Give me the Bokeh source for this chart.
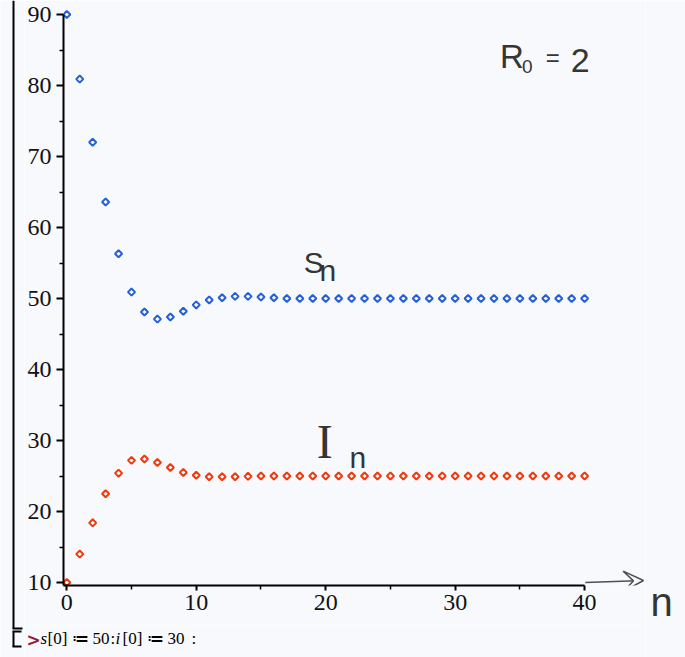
import numpy as np
from bokeh.plotting import figure
from bokeh.layouts import row, column
from bokeh.models import (Range1d, Label, Arrow, VeeHead, FixedTicker,
                          ColumnDataSource)
from bokeh.embed import file_html
from bokeh.resources import INLINE
from bokeh.core.properties import value

# ---------------- data ----------------
n = list(range(41))
S = [90.0, 80.9, 72.0, 63.6, 56.3, 50.9, 48.1, 47.1, 47.4, 48.2,
     49.1, 49.8, 50.1, 50.3, 50.3, 50.2, 50.1, 50.0, 50.0, 50.0,
     50.0, 50.0, 50.0, 50.0, 50.0, 50.0, 50.0, 50.0, 50.0, 50.0,
     50.0, 50.0, 50.0, 50.0, 50.0, 50.0, 50.0, 50.0, 50.0, 50.0, 50.0]
I = [10.0, 14.0, 18.4, 22.5, 25.4, 27.2, 27.4, 26.9, 26.2, 25.5,
     25.1, 24.9, 24.9, 24.9, 24.95, 25.0, 25.0, 25.0, 25.0, 25.0,
     25.0, 25.0, 25.0, 25.0, 25.0, 25.0, 25.0, 25.0, 25.0, 25.0,
     25.0, 25.0, 25.0, 25.0, 25.0, 25.0, 25.0, 25.0, 25.0, 25.0, 25.0]
x_ticks = [0, 10, 20, 30, 40]
x_minor = [5, 15, 25, 35]
y_ticks = [10, 20, 30, 40, 50, 60, 70, 80, 90]
y_minor = [15, 25, 35, 45, 55, 65, 75, 85]

BG = "#f8f9fc"
BLUE = "#2560d8"
RED = "#f03a0c"
PEN = "#353535"

# ---------------- layout numbers (page pixels) ----------------
W, H = 685, 657
L = 24            # left strip width (worksheet bracket)
R = 40            # right strip width (handwritten n)
HT = 625          # height of main plot
X0_PAGE, Y10_PAGE = 64.3, 582.0
sx, sy = 12.99, 7.1
OFF = 3.0         # small gap so edge markers are not clipped

ML = int(round(X0_PAGE - OFF - L))
MB = int(round(HT - (Y10_PAGE + OFF)))
MW = W - L - R
FW = MW - ML
FH = HT - MB
x0 = -(X0_PAGE - (L + ML)) / sx
x1 = x0 + FW / sx
y0 = 10 - ((HT - MB) - Y10_PAGE) / sy
y1 = y0 + FH / sy


def px(page_x):
    return (page_x - X0_PAGE) / sx


def py(page_y):
    return 10 + (Y10_PAGE - page_y) / sy


# ---------------- main plot ----------------
p = figure(width=MW, height=HT,
           min_border_left=ML, min_border_bottom=MB,
           min_border_right=0, min_border_top=0,
           x_range=Range1d(x0, x1), y_range=Range1d(y0, y1),
           output_backend="svg", toolbar_location=None,
           background_fill_color=BG, border_fill_color=BG)
p.outline_line_color = None
p.xgrid.visible = False
p.ygrid.visible = False

src = ColumnDataSource(dict(n=n, S=S, I=I))
p.scatter("n", "S", source=src, marker="square", angle=np.pi / 4, size=5,
          line_width=2, line_color=BLUE, fill_color=None)
p.scatter("n", "I", source=src, marker="square", angle=np.pi / 4, size=5,
          line_width=2, line_color=RED, fill_color=None)

for ax in (p.xaxis, p.yaxis):
    ax.axis_line_width = 2
    ax.major_tick_line_width = 2
    ax.minor_tick_line_width = 1.5
    ax.major_tick_in = 0
    ax.minor_tick_in = 0
    ax.major_label_text_font = "Liberation Serif"
    ax.major_label_text_font_size = "24px"
    ax.major_label_text_color = "#111111"
    ax.axis_line_color = "black"
    ax.major_tick_line_color = "black"
    ax.minor_tick_line_color = "black"

p.xaxis.bounds = (x0, 40)
p.xaxis.ticker = FixedTicker(ticks=x_ticks, minor_ticks=x_minor)
p.xaxis.major_tick_out = 5
p.xaxis.minor_tick_out = 4
p.xaxis.major_label_standoff = 4

p.yaxis.bounds = (y0, 90)
p.yaxis.ticker = FixedTicker(ticks=y_ticks, minor_ticks=y_minor)
p.yaxis.major_tick_out = 7
p.yaxis.minor_tick_out = 4
p.yaxis.major_label_standoff = 5


def hand(page_x, page_y, t, size, font="Liberation Sans", align="left"):
    p.add_layout(Label(x=px(page_x), y=py(page_y), text=t, text_font=font,
                       text_font_size=size, text_color=PEN,
                       text_align=align, text_baseline="middle"))


# R0 = 2
hand(499, 56, "R", "33px")
hand(521, 66, "0", "19px")
hand(545, 57, "=", "24px")
hand(570, 60, "2", "34px")
# S_n
hand(302, 262, "S", "30px")
hand(318, 270, "n", "30px")
# I_n
hand(315, 441, "I", "48px", font="Liberation Serif")
hand(348, 457, "n", "30px")
# arrow towards n
p.add_layout(Arrow(x_start=40.05, y_start=10.0, x_end=px(643), y_end=py(580),
                   line_color="#505050", line_width=1.5,
                   end=VeeHead(size=20, line_color="#505050", line_width=1.5,
                               fill_color=None)))


# ---------------- helper for plain strips ----------------
def blank(w, h):
    f = figure(width=w, height=h, x_range=Range1d(0, w), y_range=Range1d(h, 0),
               x_axis_type=None, y_axis_type=None,
               min_border=0, min_border_left=0, min_border_right=0,
               min_border_top=0, min_border_bottom=0,
               output_backend="svg", toolbar_location=None,
               background_fill_color=BG, border_fill_color=BG)
    f.outline_line_color = None
    f.xgrid.visible = False
    f.ygrid.visible = False
    return f


# left strip (full height): worksheet brackets, page coordinates
left = blank(L, H)
left.segment(x0=[13, 12, 13, 12, 12], y0=[0, 628, 631, 631, 646],
             x1=[13, 22, 13, 21, 21], y1=[628, 628, 646, 631, 646],
             line_color="black", line_width=2)

# right strip (full height): handwritten "n"
right = blank(R, H)
right.text(x=[661 - (W - R)], y=[601], text=["n"], text_font=value("Liberation Sans"),
           text_font_size="40px", text_color=PEN, text_align="center",
           text_baseline="middle")

# bottom strip under the plot: Maple input line (x = page_x - L, y = page_y - HT)
HB = H - HT
bot = blank(MW, HB)
bot.text(x=[26 - L], y=[14], text=[">"], text_font=value("DejaVu Sans"),
         text_font_size="17px", text_font_style="bold", text_color="#a0183a",
         text_baseline="middle")

piece_x = [40, 47, 71, 92, 110, 115, 122, 146, 167, 191]
piece_t = ["s", "[0]", "≔", "50", ":", "i", "[0]", "≔", "30", ":"]
piece_s = ["italic", "normal", "normal", "normal", "normal", "italic",
           "normal", "normal", "normal", "normal"]
for xx, t, st in zip(piece_x, piece_t, piece_s):
    bot.text(x=[xx - L], y=[13], text=[t], text_font=value("Liberation Serif"),
             text_font_size="17px", text_font_style=st, text_color="black",
             text_baseline="middle")

layout = row(left, column(p, row(bot, spacing=0), spacing=0), right, spacing=0)
open("out.html", "w").write(file_html(layout, INLINE))
